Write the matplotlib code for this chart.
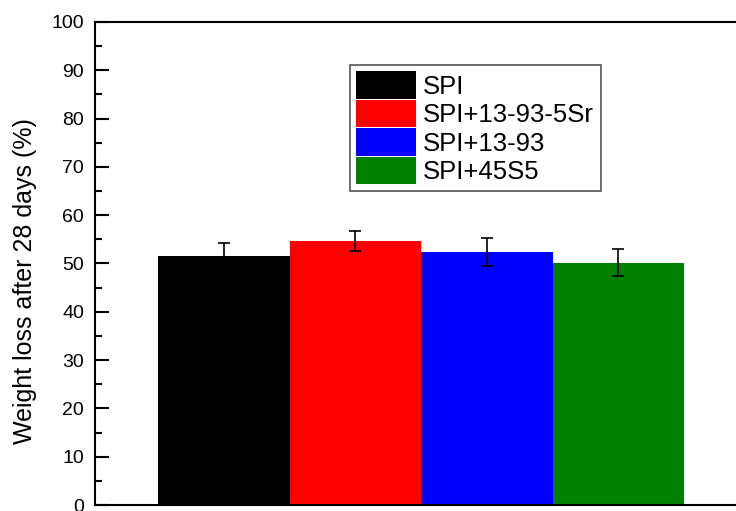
import matplotlib
matplotlib.use('Agg')
import matplotlib.pyplot as plt
from matplotlib.ticker import MultipleLocator

plt.rcParams['font.family'] = ['Liberation Sans', 'DejaVu Sans']

# datos
groups = ['SPI', 'SPI+13-93-5Sr', 'SPI+13-93', 'SPI+45S5']
weight_loss = [51.5, 54.6, 52.3, 50.2]
errors = [2.7, 2.1, 2.9, 2.8]
colors = ['#000000', '#ff0000', '#0000ff', '#008000']

W, H = 736, 511
fig = plt.figure(figsize=(W / 100, H / 100), dpi=100)
# el eje sigue mas alla del borde derecho (figura recortada)
ax = fig.add_axes([95 / W, 6 / H, 655 / W, 483 / H])

xs = [1, 2, 3, 4]
for x, v, e, c, g in zip(xs, weight_loss, errors, colors, groups):
    ax.bar(x, v, width=1.0, color=c, label=g, zorder=2)
    ax.errorbar(x, v, yerr=e, fmt='none', ecolor='black', elinewidth=1.2,
                capsize=4, capthick=1.2, zorder=3)

ax.set_xlim(0.02, 5)
ax.set_ylim(0, 100)
ax.yaxis.set_major_locator(MultipleLocator(10))
ax.yaxis.set_minor_locator(MultipleLocator(5))
ax.set_xticks([])
ax.tick_params(axis='y', which='major', direction='in', length=10, width=1.5,
               labelsize=14, pad=8)
ax.tick_params(axis='y', which='minor', direction='in', length=5, width=1.5)
for s in ax.spines.values():
    s.set_linewidth(1.5)

ax.set_ylabel('Weight loss after 28 days (%)', fontsize=18)
ax.yaxis.set_label_coords(-0.089, 0.464)

leg = ax.legend(loc='upper left', bbox_to_anchor=(350 / W, 1 - 65 / H),
                bbox_transform=fig.transFigure, fontsize=18.5, frameon=True,
                fancybox=False, edgecolor='#555555', framealpha=1,
                handlelength=2.3, handleheight=1.25, handletextpad=0.3,
                labelspacing=0.05, borderpad=0.25, borderaxespad=0)
leg.get_frame().set_linewidth(1.2)

fig.savefig('out.png', dpi=100)
